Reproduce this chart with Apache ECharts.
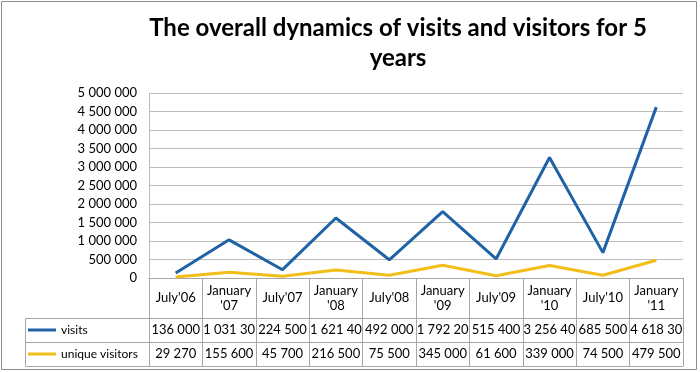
<!DOCTYPE html>
<html>
<head>
<meta charset="utf-8">
<script src="https://cdn.jsdelivr.net/npm/echarts@6/dist/echarts.min.js"></script>
<style>html,body{margin:0;padding:0;background:#fff}#c{width:700px;height:372px}</style>
</head>
<body>
<div id="c"></div>
<script>
var titleText = "The overall dynamics of visits and visitors for 5\nyears";
var categories = ["July'06", "January\n'07", "July'07", "January\n'08", "July'08", "January\n'09", "July'09", "January\n'10", "July'10", "January\n'11"];
var visits = [136000, 1031300, 224500, 1621400, 492000, 1792200, 515400, 3256400, 685500, 4618300];
var uniqueVisitors = [29270, 155600, 45700, 216500, 75500, 345000, 61600, 339000, 74500, 479500];
var yTicks = [0, 500000, 1000000, 1500000, 2000000, 2500000, 3000000, 3500000, 4000000, 4500000, 5000000];

function fmt(v) { return String(v).replace(/\B(?=(\d{3})+(?!\d))/g, ' '); }

var FONT = 'Lato';
var GRID_C = '#bdbdbd';
var BORDER_C = '#a6a6a6';

var chart = echarts.init(document.getElementById('c'), null, {renderer: 'canvas'});

function tableAxis(offset, values, showLabels) {
  return {
    type: 'category', gridIndex: 0, position: 'bottom', offset: offset,
    data: categories,
    axisLine: {show: true, lineStyle: {color: BORDER_C, width: 1}},
    axisTick: {show: showLabels, interval: 0, length: 24, lineStyle: {color: BORDER_C}},
    axisLabel: showLabels ? {
      show: true, interval: 0, margin: 12, verticalAlign: 'middle',
      color: '#000', fontFamily: FONT, fontSize: 13,
      width: 55, overflow: 'truncate', ellipsis: '',
      formatter: function (v, i) { return fmt(values[i]); }
    } : {show: false},
    splitLine: {show: false}
  };
}

chart.setOption({
  animation: false,
  title: {
    text: titleText, left: 398, top: 13, padding: 0,
    textAlign: 'center',
    textStyle: {fontFamily: FONT, fontWeight: 'bold', fontSize: 24, lineHeight: 30, color: '#000'}
  },
  legend: {
    orient: 'vertical', left: 23, top: 317, itemGap: 8,
    icon: 'rect', itemWidth: 28, itemHeight: 3,
    textStyle: {fontFamily: FONT, fontSize: 12, color: '#000', lineHeight: 16},
    data: ['visits', 'unique visitors']
  },
  grid: {left: 149, right: 17, top: 93, bottom: 94, containLabel: false},
  xAxis: [
    {
      type: 'category', position: 'bottom', data: categories, boundaryGap: true,
      axisLine: {show: true, lineStyle: {color: BORDER_C}},
      axisTick: {show: true, interval: 0, length: 40, lineStyle: {color: BORDER_C}},
      axisLabel: {interval: 0, margin: 20, verticalAlign: 'middle', lineHeight: 15,
        color: '#000', fontFamily: FONT, fontSize: 13},
      splitLine: {show: false}
    },
    tableAxis(40, visits, true),
    tableAxis(64, uniqueVisitors, true),
    tableAxis(88, visits, false)
  ],
  yAxis: {
    type: 'value', min: yTicks[0], max: yTicks[yTicks.length - 1], interval: yTicks[1] - yTicks[0],
    axisLine: {show: true, lineStyle: {color: GRID_C}},
    axisTick: {show: false},
    axisLabel: {margin: 12, color: '#000', fontFamily: FONT, fontSize: 13, formatter: function (v) { return fmt(v); }},
    splitLine: {show: true, lineStyle: {color: GRID_C, width: 1}}
  },
  series: [
    {name: 'visits', type: 'line', data: visits, xAxisIndex: 0, symbol: 'none',
      lineStyle: {color: '#1f63a6', width: 3}, itemStyle: {color: '#1f63a6'}},
    {name: 'unique visitors', type: 'line', data: uniqueVisitors, xAxisIndex: 0, symbol: 'none',
      lineStyle: {color: '#f2be1a', width: 3}, itemStyle: {color: '#f2be1a'}}
  ],
  graphic: [
    {type: 'rect', shape: {x: 1.5, y: 1.5, width: 695, height: 368}, style: {fill: 'none', stroke: '#8c8c8c', lineWidth: 1}, silent: true},
    {type: 'line', shape: {x1: 25.5, y1: 318.5, x2: 149, y2: 318.5}, style: {stroke: BORDER_C, lineWidth: 1}},
    {type: 'line', shape: {x1: 25.5, y1: 342.5, x2: 149, y2: 342.5}, style: {stroke: BORDER_C, lineWidth: 1}},
    {type: 'line', shape: {x1: 25.5, y1: 366.5, x2: 149, y2: 366.5}, style: {stroke: BORDER_C, lineWidth: 1}},
    {type: 'line', shape: {x1: 25.5, y1: 318.5, x2: 25.5, y2: 366.5}, style: {stroke: BORDER_C, lineWidth: 1}}
  ]
});
</script>
</body>
</html>
